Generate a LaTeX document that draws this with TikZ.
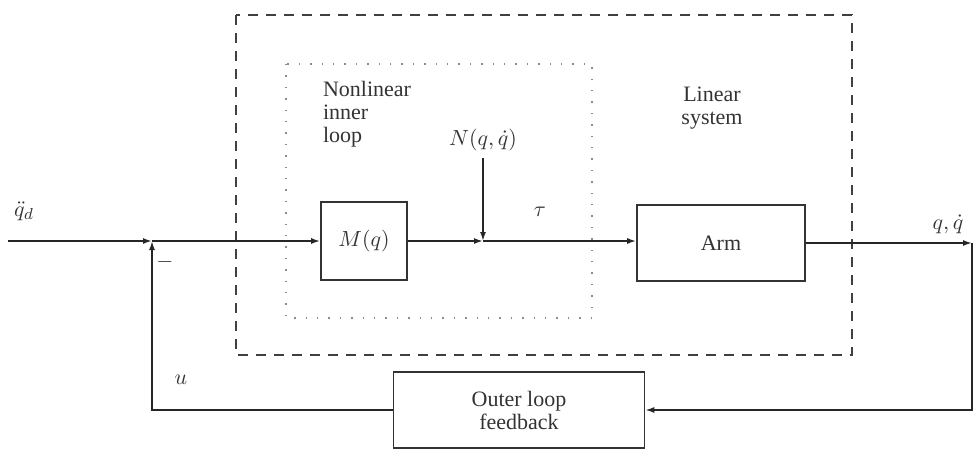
\documentclass[tikz,border=0pt]{standalone}
\usepackage{fontspec}
\setmainfont{Liberation Serif}
\usetikzlibrary{arrows.meta}
\begin{document}
\begin{tikzpicture}[x=0.5pt,y=-0.5pt,
  every node/.style={font=\fontsize{11}{11.5}\selectfont, text=black!80},
  block/.style={draw=black!80, line width=0.8pt, inner sep=0pt},
  sig/.style={draw=black!85, line width=0.85pt, -{Latex[length=4.5pt,width=3pt]}},
  outerbox/.style={draw=black!75, line width=0.9pt, dash pattern=on 5pt off 4pt},
  innerbox/.style={draw=black!45, line width=0.7pt, dash pattern=on 0.7pt off 5pt}]
\useasboundingbox (0,0) rectangle (975,455);

% enclosing regions
\draw[outerbox] (236,15) rectangle (852,355);
\draw[innerbox] (286,64) rectangle (592,318);
\node[anchor=north west, align=left] (nl) at (316,74) {Nonlinear\\inner\\loop};
\node[align=center] (ls) at (712,108) {Linear\\system};

% blocks
\node[block, minimum width=43pt, minimum height=39pt] (M) at (364,241) {$M(q)$};
\node[block, minimum width=84pt, minimum height=38pt] (arm) at (721,243) {Arm};
\node[block, minimum width=125.5pt, minimum height=38pt, align=center] (outer) at (519,410) {Outer loop\\feedback};

% junctions and free ends
\coordinate (in) at (8,241);
\coordinate (sum) at (152,241);
\coordinate (nj) at (483,241);
\coordinate (out) at (972,243);
\node (N) at (483,140) {$N(q,\dot{q})$};

% forward path
\draw[sig] (in) -- (sum);
\draw[sig] (sum) -- (M.west);
\draw[sig] (M.east) -- (nj);
\draw[sig] (N.south) -- (nj);
\draw[sig] (nj) -- (arm.west |- nj);
\draw[sig] (arm.east |- out) -- (out);

% feedback path
\draw[sig] (out) |- (outer.east);
\draw[sig] (outer.west) -| (sum);

% labels
\node (qd) at (24,211) {$\ddot{q}_d$};
\node (tau) at (540,212) {$\tau$};
\node (qo) at (948,224) {$q,\dot{q}$};
\node (u) at (181,380) {$u$};
\node (minus) at (165,262) {$-$};
\end{tikzpicture}
\end{document}
